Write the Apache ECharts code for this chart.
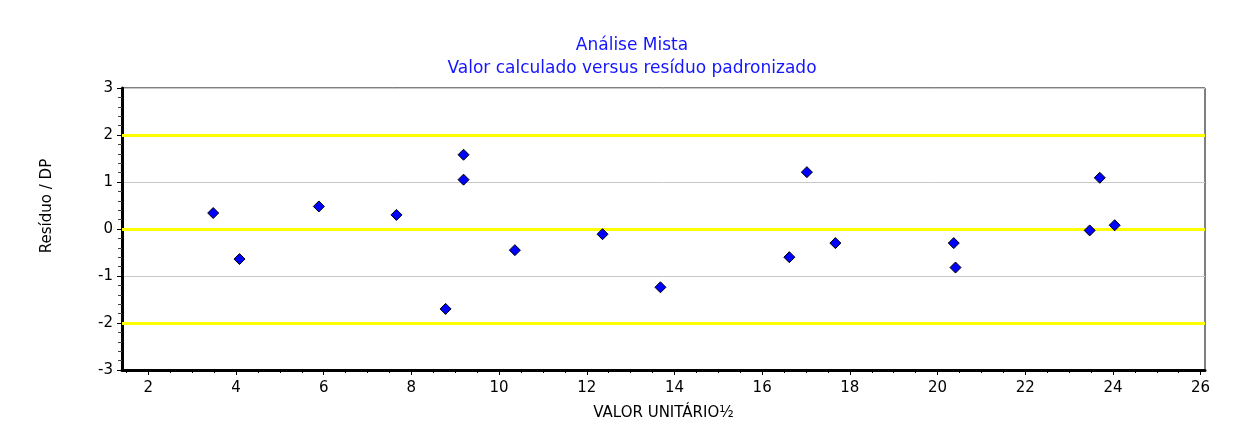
<!DOCTYPE html>
<html>
<head>
<meta charset="utf-8">
<title>Análise Mista</title>
<script src="https://cdn.jsdelivr.net/npm/echarts@6/dist/echarts.min.js"></script>
<style>
    html, body { margin: 0; padding: 0; background: #fff; }
    #chart { width: 1241px; height: 445px; }
</style>
</head>
<body>
<div id="chart"></div>
<script>
// valor calculado (x) e resíduo padronizado (y)
var valorCalculado = [3.48, 4.08, 5.89, 7.66, 8.78, 9.19, 9.19, 10.36, 12.36, 13.68, 16.62, 17.02, 17.67, 20.37, 20.41, 23.47, 23.70, 24.04];
var residuoDP = [0.34, -0.64, 0.48, 0.30, -1.70, 1.58, 1.05, -0.45, -0.11, -1.24, -0.60, 1.21, -0.30, -0.30, -0.82, -0.03, 1.09, 0.08];

var xTicks = [2, 4, 6, 8, 10, 12, 14, 16, 18, 20, 22, 24, 26];
var refLevels = [-2, 0, 2];

var fontFamily = 'DejaVu Sans';

function buildPoints() {
    var pts = [];
    for (var i = 0; i < valorCalculado.length; i++) {
        pts.push([valorCalculado[i], residuoDP[i]]);
    }
    return pts;
}

function minorValues() {
    var list = [];
    for (var v = 1.5; v <= 26; v += 0.5) {
        if (xTicks.indexOf(v) < 0) list.push(v);
    }
    return list;
}

var chartDom = document.getElementById('chart');
var myChart = echarts.init(chartDom);
var option;

option = {
    animation: false,
    title: {
        text: 'Análise Mista\nValor calculado versus resíduo padronizado',
        left: 627,
        top: 29,
        textAlign: 'center',
        textStyle: {
            color: '#1414ff',
            fontFamily: fontFamily,
            fontWeight: 'normal',
            fontSize: 17,
            lineHeight: 23
        }
    },
    grid: {
        left: 122,
        right: 36,
        top: 88,
        bottom: 75,
        show: true,
        borderColor: '#000',
        borderWidth: 1,
        backgroundColor: '#fff'
    },
    xAxis: [{
        type: 'value',
        min: 1.4,
        max: 26.1,
        name: 'VALOR UNITÁRIO½',
        nameLocation: 'middle',
        nameGap: 36,
        nameTextStyle: { color: '#000', fontFamily: fontFamily, fontSize: 15 },
        axisLine: { show: true, onZero: false, lineStyle: { color: '#000', width: 3 } },
        axisTick: { show: true, length: 5, customValues: xTicks, lineStyle: { color: '#000' } },
        axisLabel: { customValues: xTicks, color: '#000', fontFamily: fontFamily, fontSize: 15, margin: 11 },
        splitLine: { show: false }
    }, {
        type: 'value',
        min: 1.4,
        max: 26.1,
        position: 'bottom',
        axisLine: { show: false, onZero: false },
        axisTick: { show: true, length: 3, customValues: minorValues(), lineStyle: { color: '#000' } },
        axisLabel: { show: false },
        splitLine: { show: false }
    }],
    yAxis: {
        type: 'value',
        min: -3,
        max: 3,
        interval: 1,
        axisLine: { show: true, onZero: false, lineStyle: { color: '#000', width: 3 } },
        axisTick: { show: true, length: 5, lineStyle: { color: '#000' } },
        minorTick: { show: true, splitNumber: 5, length: 4, lineStyle: { color: '#444' } },
        axisLabel: { color: '#000', fontFamily: fontFamily, fontSize: 15, margin: 9 },
        splitLine: { show: true, lineStyle: { color: '#c8c8c8', width: 1 } }
    },
    graphic: [{
        type: 'text',
        x: 47,
        y: 206,
        rotation: Math.PI / 2,
        style: {
            text: 'Resíduo / DP',
            fill: '#000',
            font: '15px "DejaVu Sans"',
            textAlign: 'center',
            textVerticalAlign: 'middle'
        }
    }],
    series: [{
        type: 'scatter',
        xAxisIndex: 0,
        symbol: 'diamond',
        symbolSize: 11,
        itemStyle: { color: '#0000ff', borderColor: '#000', borderWidth: 1, opacity: 1 },
        data: buildPoints(),
        z: 5,
        markLine: {
            silent: true,
            symbol: 'none',
            label: { show: false },
            lineStyle: { color: '#ffff00', width: 3, type: 'solid' },
            data: refLevels.map(function (v) { return { yAxis: v }; }),
            z: 3
        }
    }]
};

option && myChart.setOption(option);
</script>
</body>
</html>
